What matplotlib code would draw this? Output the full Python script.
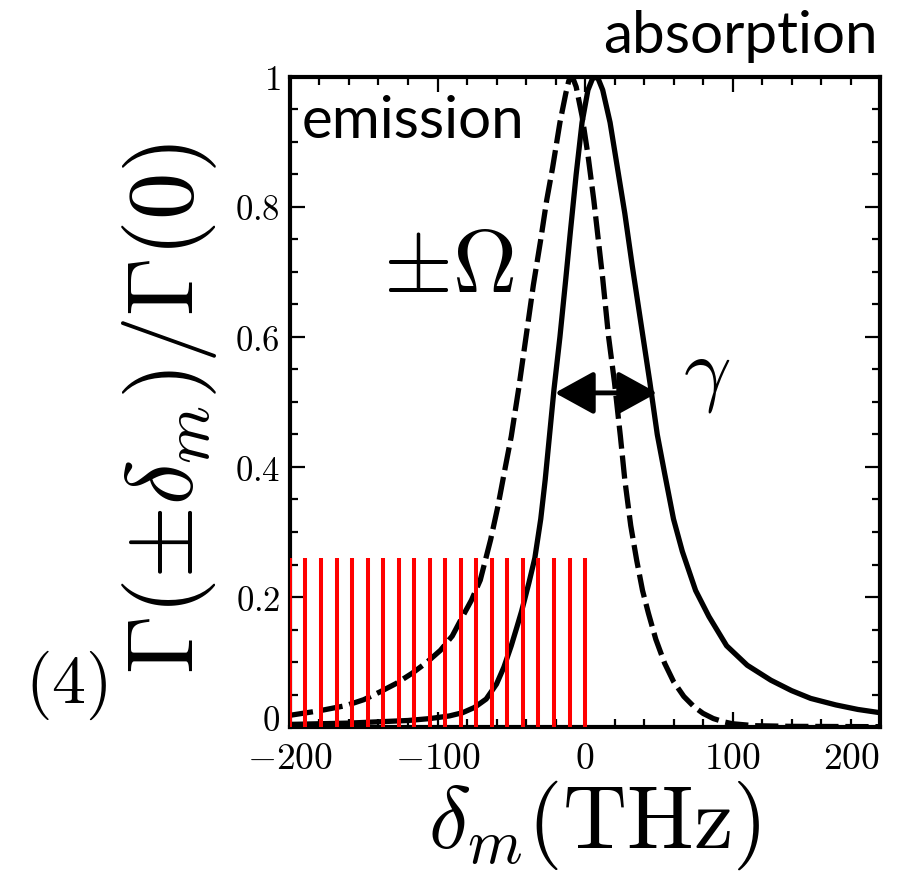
import matplotlib
matplotlib.use("Agg")
import matplotlib.pyplot as plt
from matplotlib.ticker import FixedLocator, MultipleLocator, FixedFormatter
from matplotlib.transforms import ScaledTranslation

plt.rcParams["mathtext.fontset"] = "cm"

# absorption curve, Gamma(+delta)/Gamma(0)  (solid)
abs_x = [-200, -180, -160, -140, -120, -105, -92, -83, -75, -67, -60, -55, -50, -46, -43,
         -38, -34, -30, -27, -24, -21, -17, -13, -10, -6, -2, 2, 5, 7, 9, 12, 17, 22, 27,
         32, 38, 44, 49, 54, 60, 66, 75, 84, 96, 110, 126, 140, 153, 170, 185, 200]
abs_y = [0.004, 0.005, 0.006, 0.008, 0.010, 0.013, 0.017, 0.022, 0.030, 0.043, 0.066,
         0.092, 0.125, 0.155, 0.178, 0.222, 0.26, 0.32, 0.38, 0.45, 0.52, 0.60, 0.69,
         0.76, 0.85, 0.93, 0.98, 0.997, 1.0, 0.997, 0.98, 0.93, 0.86, 0.79, 0.71, 0.62,
         0.53, 0.45, 0.39, 0.32, 0.27, 0.21, 0.17, 0.125, 0.095, 0.072, 0.056, 0.044,
         0.034, 0.027, 0.022]

# emission curve, Gamma(-delta)/Gamma(0)  (dashed)
emi_x = [-200, -180, -162, -150, -139, -128, -117, -107, -98, -90, -83, -77, -71, -64,
         -59, -54, -50, -45, -40, -35, -30, -26, -22, -17, -13, -11, -9.5, -8, -6, -2, 2,
         6, 9, 12, 16, 20, 24, 27, 31, 35, 39, 43, 48, 54, 60, 67, 74, 80, 87, 94, 100,
         115, 140, 200]
emi_y = [0.018, 0.025, 0.033, 0.042, 0.054, 0.067, 0.083, 0.10, 0.118, 0.14, 0.17,
         0.195, 0.226, 0.288, 0.34, 0.40, 0.447, 0.52, 0.60, 0.68, 0.75, 0.81, 0.86,
         0.93, 0.975, 0.994, 1.0, 0.997, 0.985, 0.94, 0.88, 0.81, 0.75, 0.69, 0.60, 0.53,
         0.447, 0.38, 0.31, 0.257, 0.21, 0.175, 0.135, 0.098, 0.07, 0.047, 0.031, 0.021,
         0.013, 0.008, 0.005, 0.002, 0.001, 0.0005]

# red comb of modes
mode_x = [-200, -189.5, -178.9, -168.4, -157.9, -147.4, -136.8, -126.3, -115.8, -105.3,
          -94.7, -84.2, -73.7, -63.2, -52.6, -42.1, -31.6, -21.1, -10.5, 0]
mode_top = 0.26

# width arrow (gamma)
arrow_x = [-20.4, 48.9]
arrow_y = 0.514

xticks = [-200, -100, 0, 100, 200]
xticklabels = ["$-200$", "$-100$", "$0$", "$100$", "$200$"]
yticks = [0, 0.2, 0.4, 0.6, 0.8, 1.0]
yticklabels = ["$0$", "$0.2$", "$0.4$", "$0.6$", "$0.8$", "$1$"]

fig = plt.figure(figsize=(8.99, 8.72), dpi=100)
ax = fig.add_axes([290 / 899, 1 - 727 / 872, 590 / 899, 650 / 872])

ax.plot(emi_x, emi_y, color="black", lw=3.8, ls=(0, (4.4, 1.3)), zorder=2)
ax.plot(abs_x, abs_y, color="black", lw=3.8, zorder=2)
ax.vlines(mode_x, 0, mode_top, color="red", lw=2.9, zorder=3)

ax.annotate("", xy=(arrow_x[0], arrow_y), xytext=(arrow_x[1], arrow_y),
            arrowprops=dict(arrowstyle="<|-|>,head_length=0.4,head_width=0.22",
                            color="black", lw=3.5, shrinkA=0, shrinkB=0,
                            mutation_scale=60), zorder=4)

ax.set_xlim(-200, 200)
ax.set_ylim(0, 1)
ax.xaxis.set_major_locator(FixedLocator(xticks))
ax.xaxis.set_major_formatter(FixedFormatter(xticklabels))
ax.xaxis.set_minor_locator(MultipleLocator(20))
ax.yaxis.set_major_locator(FixedLocator(yticks))
ax.yaxis.set_major_formatter(FixedFormatter(yticklabels))
ax.yaxis.set_minor_locator(MultipleLocator(0.05))
ax.tick_params(which="both", direction="in", top=True, right=True, width=1.6)
ax.tick_params(which="major", length=11)
ax.tick_params(which="minor", length=6)
ax.tick_params(axis="x", labelsize=27, pad=10)
ax.tick_params(axis="y", labelsize=25, pad=7)
for sp in ax.spines.values():
    sp.set_linewidth(3)
labs = ax.get_xticklabels()
labs[-1].set_horizontalalignment("right")
# lift the y "0" a little so it clears the "-200" below it
ylab0 = ax.get_yticklabels()[0]
ylab0.set_transform(ylab0.get_transform() + ScaledTranslation(0, 7 / 72, fig.dpi_scale_trans))

ax.set_xlabel(r"$\delta_m(\mathrm{THz})$", fontsize=64)
ax.xaxis.set_label_coords(0.515, -0.079)
ax.set_ylabel(r"$\Gamma(\pm\delta_m)/\Gamma(0)$", fontsize=68)
ax.yaxis.set_label_coords(-0.12, 0.49)

ax.text(0.02, 0.906, "emission", transform=ax.transAxes, fontsize=42,
        family="Lato", va="baseline", ha="left")
ax.text(0.158, 0.669, r"$\pm\Omega$", transform=ax.transAxes, fontsize=64,
        va="baseline", ha="left")
ax.text(683 / 899 , 1 - 395 / 872, r"$\gamma$", transform=fig.transFigure,
        fontsize=60, va="baseline", ha="left")
fig.text(878 / 899, 1 - 53 / 872, "absorption", fontsize=42, family="Lato",
         va="baseline", ha="right")
fig.text(66 / 899, 1 - 703 / 872, r"$(4)$", fontsize=49,
         va="baseline", ha="center")

fig.savefig("out.png", dpi=100)
